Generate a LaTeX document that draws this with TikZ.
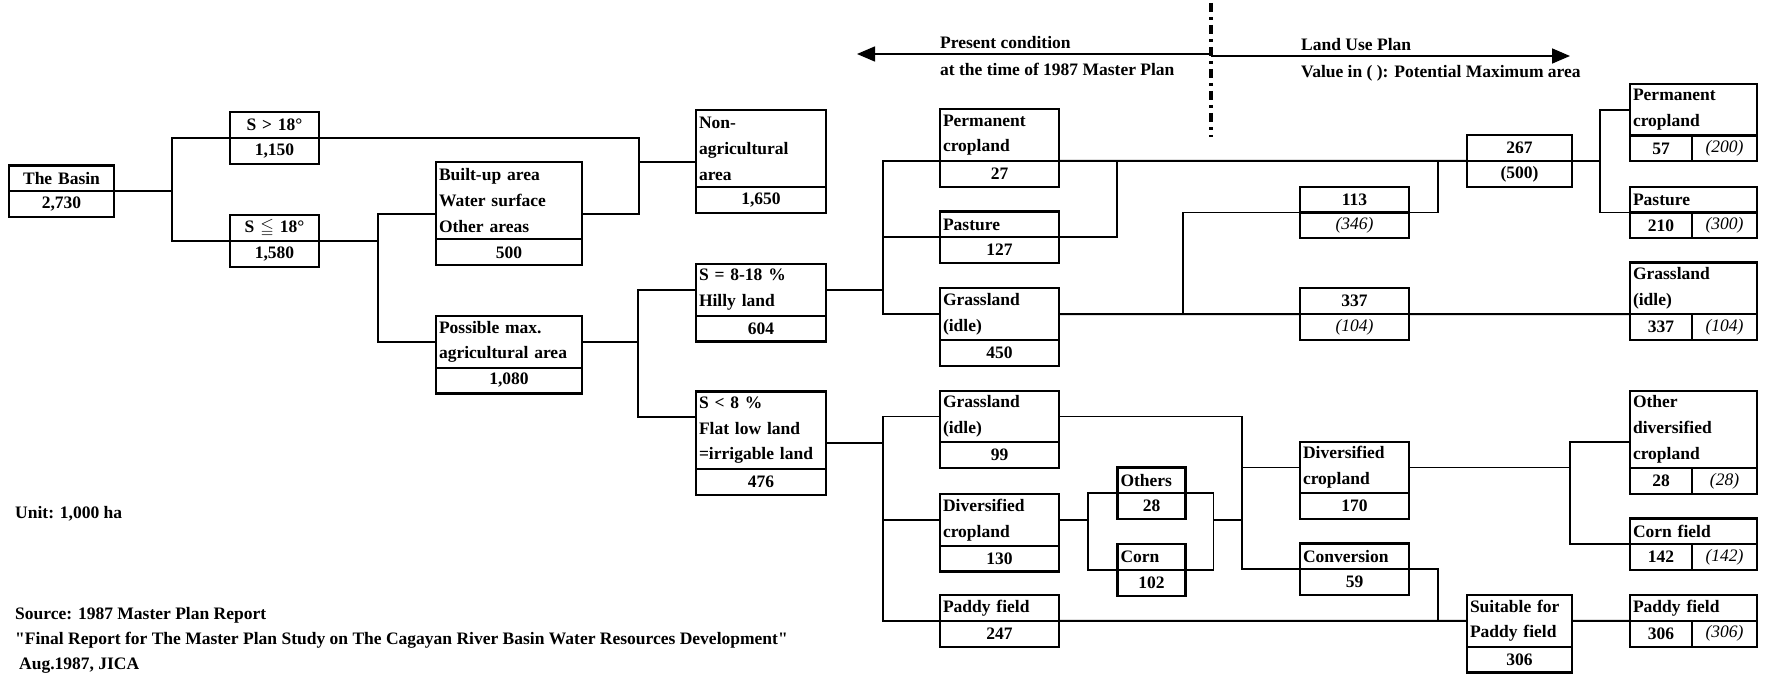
\documentclass[tikz,border=0pt]{standalone}
\usepackage{amssymb}
\usepackage{fontspec}
\setmainfont{Liberation Serif}
\usetikzlibrary{arrows.meta, positioning}
\newcommand{\boxfont}{\fontsize{17.5}{25.8}\selectfont\bfseries}

\begin{document}
\begin{tikzpicture}[
    x=1pt, y=-1pt,
    font=\boxfont,
    box/.style={draw, line width=2.2pt, outer sep=0pt, inner xsep=3pt, inner ysep=0pt},
    head/.style={box, anchor=north west, align=left, minimum height=#1*25.8pt},
    val/.style={box, align=center, minimum height=25.8pt},
    cell/.style={val, text width=56pt},
    potcell/.style={val, text width=59pt, font=\boxfont\mdseries\itshape},
    pot/.style={font=\boxfont\mdseries\itshape},
    colA/.style={text width=99pt},
    colB/.style={text width=83pt},
    colC/.style={text width=140pt},
    colD/.style={text width=124pt},
    colE/.style={text width=113pt},
    colK/.style={text width=62pt},
    colF/.style={text width=103pt},
    colG/.style={text width=99pt},
    colH/.style={text width=121pt},
    note/.style={anchor=base west, inner sep=0pt},
    conn/.style={line width=1.9pt},
    arrow/.style={line width=1.6pt, -{Triangle[length=18pt, width=15pt]}},
    dashdot/.style={line width=3.2pt, dash pattern=on 9pt off 5pt on 3pt off 5pt}
]
\useasboundingbox (0,0) rectangle (1777,676);

\node[head=1, colA, align=center] (basin) at (9,165.5) {The Basin};
\node[val, colA, below=0pt of basin] (basinv) {2,730};
\node[head=1, colB, align=center] (steep) at (230,112.3) {S > 18°};
\node[val, colB, below=0pt of steep] (steepv) {1,150};
\node[head=1, colB, align=center] (gentle) at (230,215.2) {S $\leqq$ 18°};
\node[val, colB, below=0pt of gentle] (gentlev) {1,580};

\node[head=3, colC] (builtup) at (436,162) {Built-up area\\Water surface\\Other areas};
\node[val, colC, below=0pt of builtup] (builtupv) {500};
\node[head=2, colC] (possmax) at (436,316) {Possible max.\\agricultural area};
\node[val, colC, below=0pt of possmax] (possmaxv) {1,080};

\node[head=3, colD] (nonagri) at (696,110) {Non-\\agricultural\\area};
\node[val, colD, below=0pt of nonagri] (nonagriv) {1,650};
\node[head=2, colD] (hilly) at (696,264) {S = 8-18 \%\\Hilly land};
\node[val, colD, below=0pt of hilly] (hillyv) {604};
\node[head=3, colD] (flat) at (696,391.5) {S < 8 \%\\Flat low land\\=irrigable land};
\node[val, colD, below=0pt of flat] (flatv) {476};

\node[head=2, colE] (perm) at (940,109.3) {Permanent\\cropland};
\node[val, colE, below=0pt of perm] (permv) {27};
\node[head=1, colE] (past) at (940,211.5) {Pasture};
\node[val, colE, below=0pt of past] (pastv) {127};
\node[head=2, colE] (grass) at (940,288.3) {Grassland\\(idle)};
\node[val, colE, below=0pt of grass] (grassv) {450};
\node[head=2, colE] (idle) at (940,390.7) {Grassland\\(idle)};
\node[val, colE, below=0pt of idle] (idlev) {99};
\node[head=2, colE] (divcrop) at (940,494) {Diversified\\cropland};
\node[val, colE, below=0pt of divcrop] (divcropv) {130};
\node[head=1, colE] (paddy) at (940,595) {Paddy field};
\node[val, colE, below=0pt of paddy] (paddyv) {247};

\node[head=1, colK] (others) at (1117.5,467.5) {Others};
\node[val, colK, below=0pt of others] (othersv) {28};
\node[head=1, colK] (corn) at (1117.5,544) {Corn};
\node[val, colK, below=0pt of corn] (cornv) {102};

\node[head=1, colF, align=center] (up113) at (1300,186.7) {113};
\node[val, colF, pot, below=0pt of up113] (up113v) {(346)};
\node[head=1, colF, align=center] (up337) at (1300,288.3) {337};
\node[val, colF, pot, below=0pt of up337] (up337v) {(104)};
\node[head=2, colF] (divplan) at (1300,441.7) {Diversified\\cropland};
\node[val, colF, below=0pt of divplan] (divplanv) {170};
\node[head=1, colF] (conv) at (1300,543.5) {Conversion};
\node[val, colF, below=0pt of conv] (convv) {59};

\node[head=1, colG, align=center] (up267) at (1467,135.1) {267};
\node[val, colG, below=0pt of up267] (up267v) {(500)};
\node[head=2, colG] (suit) at (1467,595) {Suitable for\\Paddy field};
\node[val, colG, below=0pt of suit] (suitv) {306};

\node[head=2, colH] (rperm) at (1630,84) {Permanent\\cropland};
\node[cell, anchor=north west] (rpermv) at (rperm.south west) {57};
\node[potcell, right=0pt of rpermv] (rpermp) {(200)};
\node[head=1, colH] (rpast) at (1630,186.7) {Pasture};
\node[cell, anchor=north west] (rpastv) at (rpast.south west) {210};
\node[potcell, right=0pt of rpastv] (rpastp) {(300)};
\node[head=2, colH] (rgrass) at (1630,262.5) {Grassland\\(idle)};
\node[cell, anchor=north west] (rgrassv) at (rgrass.south west) {337};
\node[potcell, right=0pt of rgrassv] (rgrassp) {(104)};
\node[head=3, colH] (rother) at (1630,390.7) {Other\\diversified\\cropland};
\node[cell, anchor=north west] (rotherv) at (rother.south west) {28};
\node[potcell, right=0pt of rotherv] (rotherp) {(28)};
\node[head=1, colH] (rcorn) at (1630,518.5) {Corn field};
\node[cell, anchor=north west] (rcornv) at (rcorn.south west) {142};
\node[potcell, right=0pt of rcornv] (rcornp) {(142)};
\node[head=1, colH] (rpaddy) at (1630,595) {Paddy field};
\node[cell, anchor=north west] (rpaddyv) at (rpaddy.south west) {306};
\node[potcell, right=0pt of rpaddyv] (rpaddyp) {(306)};

\draw[conn] (basin.south east) -- ++(58,0) |- (steep.south west);
\draw[conn] (basin.south east) -- ++(58,0) |- (gentle.south west);
\draw[conn] (steep.south east) -- ++(320,0) |- ([yshift=-13pt]nonagri.west);
\draw[conn] ([yshift=-13pt]builtup.east) -- ++(57,0) |- ([yshift=-13pt]nonagri.west);
\draw[conn] (gentle.south east) -- ++(59,0) |- ([yshift=-13pt]builtup.west);
\draw[conn] (gentle.south east) -- ++(59,0) |- (possmax.west);
\draw[conn] (possmax.east) -- ++(56,0) |- (hilly.west);
\draw[conn] (possmax.east) -- ++(56,0) |- ([yshift=13pt]flat.west);

\draw[conn] (hilly.east) -- ++(57,0) |- (perm.south west);
\draw[conn] (hilly.east) -- ++(57,0) |- (past.south west);
\draw[conn] (hilly.east) -- ++(57,0) |- (grass.west);
\draw[conn] (perm.south east) -- (up267.south west);
\draw[conn] (past.south east) -- ++(58,0) |- (up267.south west);
\draw[conn] (up113.south east) -- ++(29,0) |- (up267.south west);
\draw[conn] (grass.east) -- ++(124,0) |- (up113.south west);
\draw[conn] (grass.east) -- (up337.south west);
\draw[conn] (up337.south east) -- (rgrass.south west);
\draw[conn] (up267.south east) -- ++(28,0) |- (rperm.west);
\draw[conn] (up267.south east) -- ++(28,0) |- (rpast.south west);

\draw[conn] ([yshift=-13pt]flat.east) -- ++(57,0) |- (idle.west);
\draw[conn] ([yshift=-13pt]flat.east) -- ++(57,0) |- (divcrop.west);
\draw[conn] ([yshift=-13pt]flat.east) -- ++(57,0) |- (paddy.south west);
\draw[conn] (idle.east) -- ++(183,0) |- (divplan.west);
\draw[conn] (idle.east) -- ++(183,0) |- (conv.south west);
\draw[conn] (divcrop.east) -- ++(29,0) |- (others.south west);
\draw[conn] (divcrop.east) -- ++(29,0) |- (corn.south west);
\coordinate (merge) at ([xshift=183pt]idle.east |- divcrop.east);
\draw[conn] (others.south east) -- ++(28,0) |- (merge);
\draw[conn] (corn.south east) -- ++(28,0) |- (merge);
\draw[conn] (paddy.south east) -- (suit.west);
\draw[conn] (conv.south east) -- ++(29,0) |- (suit.west);
\draw[conn] (divplan.east) -- ++(161,0) |- ([yshift=-13pt]rother.west);
\draw[conn] (divplan.east) -- ++(161,0) |- (rcorn.south west);
\draw[conn] (suit.east) -- (rpaddy.south west);

\coordinate (divtop) at (1211,3);
\coordinate (divbot) at (1211,137);
\coordinate (lefttip) at (857,54);
\coordinate (righttip) at (1570,56);
\draw[dashdot] (divtop) -- (divbot);
\draw[arrow] (divtop |- lefttip) -- (lefttip);
\draw[arrow] (divtop |- righttip) -- (righttip);

\node[note] (present) at (940,49) {Present condition};
\node[note] (master) at (940,76) {at the time of 1987 Master Plan};
\node[note] (landuse) at (1301,51) {Land Use Plan};
\node[note] (potential) at (1301,77.5) {Value in ( ): Potential Maximum area};

\node[note] (unit) at (15,518) {Unit: 1,000 ha};
\node[note] (source) at (15,619) {Source: 1987 Master Plan Report};
\node[note] (report) at (15,644) {\textquotedbl Final Report for The Master Plan Study on The Cagayan River Basin Water Resources Development\textquotedbl};
\node[note] (jica) at (19,669) {Aug.1987, JICA};
\end{tikzpicture}
\end{document}
